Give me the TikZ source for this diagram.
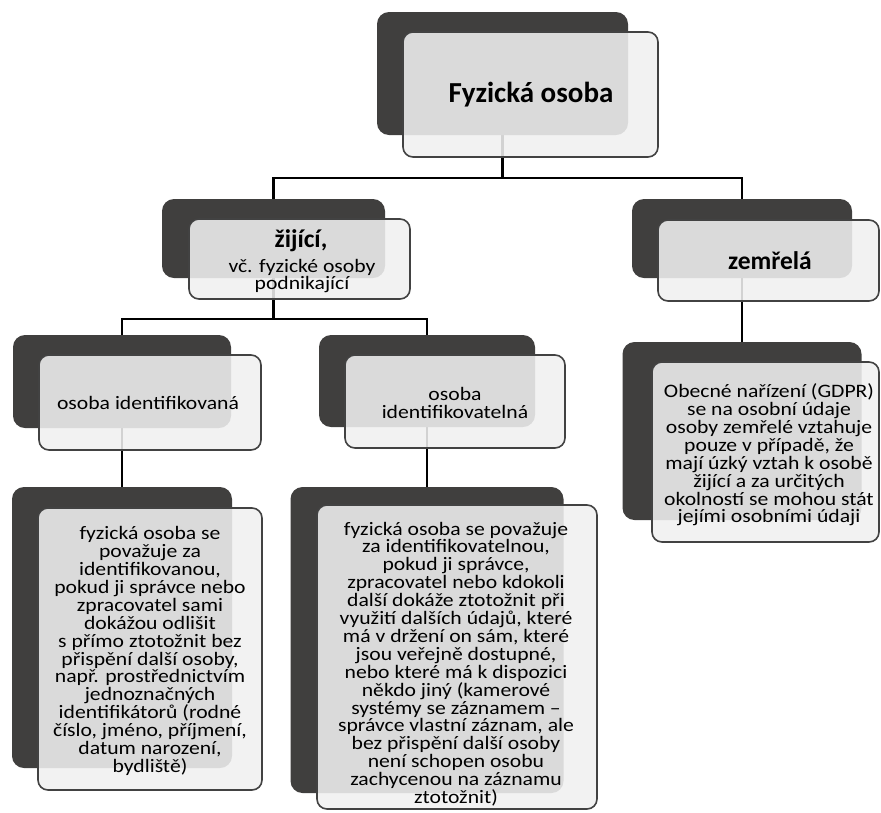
\documentclass[tikz,border=0pt]{standalone}
\usepackage{fontspec}
\setmainfont{Carlito}
\newfontfamily\bodyfont[FakeStretch=1.14]{Carlito}
\usetikzlibrary{backgrounds}
\definecolor{darkgr}{RGB}{64,63,62}
\definecolor{lightgr}{RGB}{240,240,240}
\definecolor{edgegr}{RGB}{66,66,66}
\begin{document}
\begin{tikzpicture}[x=1pt,y=-1pt,
  darkbox/.style={fill=darkgr, rounded corners=12pt, inner sep=0pt, draw=none},
  lightbox/.style={fill=lightgr, fill opacity=0.88, draw=edgegr, draw opacity=1, line width=1.6pt, rounded corners=10pt, inner sep=0pt},
  conn/.style={draw=black, line width=2.2pt},
  txt/.style={align=center, font=\bodyfont\fontsize{19}{17.9}\selectfont, inner sep=0pt, text=black},
  titletxt/.style={font=\fontsize{29}{30}\selectfont\bfseries, inner sep=0pt, text=black},
  subtxt/.style={font=\fontsize{25.5}{26}\selectfont\bfseries, inner sep=0pt, text=black}]
\useasboundingbox (0,0) rectangle (881,812);
% dark boxes
\node[darkbox, minimum width=251pt, minimum height=123pt] (d0) at (502.5,73.5) {};
\node[darkbox, minimum width=223pt, minimum height=79pt] (d1) at (273.5,238.5) {};
\node[darkbox, minimum width=220pt, minimum height=79pt] (d2) at (742,238.5) {};
\node[darkbox, minimum width=218pt, minimum height=93pt] (d3) at (122,381.5) {};
\node[darkbox, minimum width=216pt, minimum height=92pt] (d4) at (427,381) {};
\node[darkbox, minimum width=239pt, minimum height=178pt] (d5) at (742,431) {};
\node[darkbox, minimum width=220pt, minimum height=281pt] (d6) at (122,627.5) {};
\node[darkbox, minimum width=273pt, minimum height=306pt] (d7) at (427,640) {};
% light boxes
\node[lightbox, minimum width=255pt, minimum height=125pt] (l0) at (530.5,94.5) {};
\node[lightbox, minimum width=221pt, minimum height=80pt] (l1) at (299.5,259) {};
\node[lightbox, minimum width=221pt, minimum height=81pt] (l2) at (768.5,260.5) {};
\node[lightbox, minimum width=222pt, minimum height=95pt] (l3) at (150,402.5) {};
\node[lightbox, minimum width=220pt, minimum height=93pt] (l4) at (455,401.5) {};
\node[lightbox, minimum width=227pt, minimum height=180pt] (l5) at (765.5,452) {};
\node[lightbox, minimum width=224pt, minimum height=282pt] (l6) at (150,649) {};
\node[lightbox, minimum width=280pt, minimum height=304pt] (l7) at (457,657) {};
% connectors
\begin{scope}[on background layer]
\draw[conn] (d0.south) -- ++(0,43) -| (d1.north);
\draw[conn] (d0.south) -- ++(0,43) -| (d2.north);
\draw[conn] (d1.south) -- ++(0,41) -| (d3.north);
\draw[conn] (d1.south) -- ++(0,41) -| (d4.north);
\draw[conn] (d2.south) -- (d5.north);
\draw[conn] (d3.south) -- (d6.north);
\draw[conn] (d4.south) -- (d7.north);
\end{scope}
% texts
\node[titletxt] (t0) at (531,95) {Fyzická osoba};
\node[subtxt] (t1a) at (301,241) {žijící,};
\node[txt] (t1b) at (302,276) {vč. fyzické osoby\\podnikající};
\node[subtxt] (t2) at (770,261) {zemřelá};
\node[txt] (t3) at (148,403) {osoba identifikovaná};
\node[txt] (t4) at (455,403) {osoba\\identifikovatelná};
\node[txt] (t5) at (769,455) {Obecné nařízení (GDPR)\\se na osobní údaje\\osoby zemřelé vztahuje\\pouze v případě, že\\mají úzký vztah k osobě\\žijící a za určitých\\okolností se mohou stát\\jejími osobními údaji};
\node[txt] (t6) at (150,651) {fyzická osoba se\\považuje za\\identifikovanou,\\pokud ji správce nebo\\zpracovatel sami\\dokážou odlišit\\s přímo ztotožnit bez\\přispění další osoby,\\např. prostřednictvím\\jednoznačných\\identifikátorů (rodné\\číslo, jméno, příjmení,\\datum narození,\\bydliště)};
\node[txt] (t7) at (456,664) {fyzická osoba se považuje\\za identifikovatelnou,\\pokud ji správce,\\zpracovatel nebo kdokoli\\další dokáže ztotožnit při\\využití dalších údajů, které\\má v držení on sám, které\\jsou veřejně dostupné,\\nebo které má k dispozici\\někdo jiný (kamerové\\systémy se záznamem –\\správce vlastní záznam, ale\\bez přispění další osoby\\není schopen osobu\\zachycenou na záznamu\\ztotožnit)};
\end{tikzpicture}
\end{document}
